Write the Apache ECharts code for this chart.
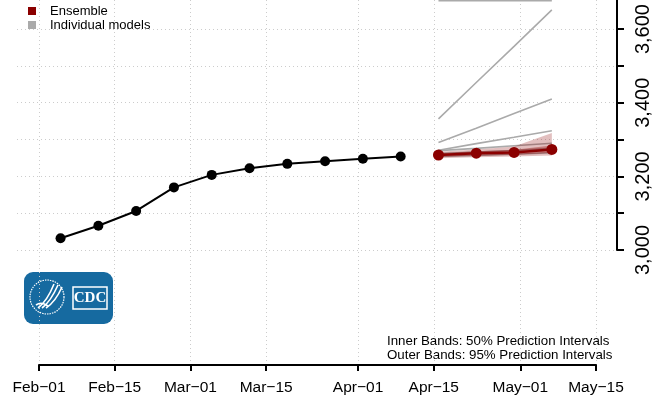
<!DOCTYPE html>
<html>
<head>
<meta charset="utf-8">
<script src="https://cdn.jsdelivr.net/npm/echarts@6/dist/echarts.min.js"></script>
<style>html,body{margin:0;padding:0;background:#fff}#c{width:653px;height:411px}</style>
</head>
<body>
<div id="c"></div>
<script>
// ---- data ----
const obsDates = ['2022-02-05','2022-02-12','2022-02-19','2022-02-26','2022-03-05','2022-03-12','2022-03-19','2022-03-26','2022-04-02','2022-04-09'];
const obsValues = [3032, 3066, 3106, 3170, 3204, 3222, 3234, 3241, 3248, 3254];
const fcDates = ['2022-04-16','2022-04-23','2022-04-30','2022-05-07'];
const ensMedian = [3258, 3263, 3265, 3273];
const ens50Lower = [3253, 3257, 3259, 3264];
const ens50Upper = [3263, 3268, 3272, 3284];
const ens95Lower = [3249, 3252, 3254, 3257];
const ens95Upper = [3267, 3273, 3281, 3318];
const model1 = [3677, 3677, 3677, 3677];
const model2 = [3356, 3455, 3553, 3652];
const model3 = [3292, 3331, 3371, 3410];
const model4 = [3271, 3289, 3306, 3324];
const model5 = [3270, 3276, 3283, 3290];
const model6 = [3262, 3266, 3270, 3276];
const model7 = [3254, 3257, 3260, 3264];
const xTickDates = ['2022-02-01','2022-02-15','2022-03-01','2022-03-15','2022-04-01','2022-04-15','2022-05-01','2022-05-15'];
const xTickLabels = ['Feb\u221201','Feb\u221215','Mar\u221201','Mar\u221215','Apr\u221201','Apr\u221215','May\u221201','May\u221215'];
const yTicks = [3000, 3100, 3200, 3300, 3400, 3500, 3600];
const yLabelValues = [3000, 3200, 3400, 3600];
const yTop = 3679;
const noteLines = ['Inner Bands: 50% Prediction Intervals', 'Outer Bands: 95% Prediction Intervals'];

// ---- helpers ----
function dn(s){ const p = s.split('-'); return Math.round((Date.UTC(+p[0], +p[1]-1, +p[2]) - Date.UTC(2022,0,1)) / 86400000); }
const xTickDn = xTickDates.map(dn);
const xMin = xTickDn[0], xMax = xTickDn[xTickDn.length-1];
const axL = 39, axR = 596, plotL = 17, plotR = 618;
const pxPerDay = (axR - axL) / (xMax - xMin);
const g0Min = xMin - (axL - plotL) / pxPerDay;
const g0Max = xMin + (plotR - axL) / pxPerDay;
const pair = (d, v) => d.map((x, i) => [dn(x), v[i]]);
const font = '"Liberation Sans", Arial, Helvetica, sans-serif';

const gray = '#aaaaaa';
const red = '#8b0000';
const models = [model1, model2, model3, model4, model5, model6, model7];
const series = [];
models.forEach(m => series.push({
  name: 'Individual models', type: 'line', xAxisIndex: 0, yAxisIndex: 0,
  data: pair(fcDates, m), symbol: 'none', silent: true,
  itemStyle: {color: gray}, lineStyle: {color: gray, width: 1.6}, z: 2
}));
function band(lower, upper, fill){
  series.push({
    type: 'custom', xAxisIndex: 0, yAxisIndex: 0, silent: true, z: 3,
    data: [[dn(fcDates[0]), lower[0]]],
    renderItem: (params, api) => {
      const top = upper.map((u, i) => api.coord([dn(fcDates[i]), u]));
      const bot = lower.map((l, i) => api.coord([dn(fcDates[i]), l])).reverse();
      return {type: 'polygon', shape: {points: top.concat(bot)}, style: {fill: fill}};
    }
  });
}
band(ens95Lower, ens95Upper, 'rgba(139,0,0,0.25)');
band(ens50Lower, ens50Upper, 'rgba(139,0,0,0.35)');
series.push({
  name: 'Ensemble', type: 'line', data: pair(fcDates, ensMedian), symbol: 'circle', symbolSize: 11,
  itemStyle: {color: red}, lineStyle: {color: red, width: 2.5}, z: 5
});
series.push({
  name: 'Observed', type: 'line', data: pair(obsDates, obsValues), symbol: 'circle', symbolSize: 10,
  itemStyle: {color: '#000'}, lineStyle: {color: '#000', width: 2}, z: 5
});
series.push({type: 'line', xAxisIndex: 1, yAxisIndex: 1, data: [], silent: true});

const W = '#ffffff';
const curve = (x1, y1, cx1, cy1, cx2, cy2, x2, y2, w) => ({type: 'bezierCurve',
  shape: {x1, y1, cpx1: cx1, cpy1: cy1, cpx2: cx2, cpy2: cy2, x2, y2}, style: {stroke: W, lineWidth: w, fill: 'none'}});

const chart = echarts.init(document.getElementById('c'), null, {renderer: 'canvas'});
chart.setOption({
  animation: false,
  backgroundColor: '#fff',
  textStyle: {fontFamily: font},
  grid: [
    {left: plotL, right: 653 - plotR, top: 0, bottom: 161, containLabel: false},
    {left: axL, right: 653 - axR, top: 0, bottom: 46, containLabel: false}
  ],
  legend: {
    data: ['Ensemble', 'Individual models'], orient: 'vertical', left: 28, top: 4, padding: 0,
    icon: 'rect', itemWidth: 8, itemHeight: 8, itemGap: 0, selectedMode: false,
    textStyle: {fontSize: 13, color: '#000', fontFamily: font, lineHeight: 14, padding: [0, 0, 0, 9]}
  },
  xAxis: [
    {gridIndex: 0, type: 'value', min: g0Min, max: g0Max, show: false},
    {gridIndex: 1, type: 'value', min: xMin, max: xMax,
      axisLine: {show: true, onZero: false, lineStyle: {color: '#000', width: 2}},
      axisTick: {show: true, length: 6, lineStyle: {color: '#000', width: 2}, customValues: xTickDn},
      axisLabel: {customValues: xTickDn, margin: 15, fontSize: 15.5, color: '#000', fontFamily: font,
        formatter: v => { const i = xTickDn.indexOf(Math.round(v)); return i >= 0 ? xTickLabels[i] : ''; }},
      splitLine: {show: true, lineStyle: {color: '#cccccc', type: [1, 3], width: 1}}
    }
  ],
  yAxis: [
    {gridIndex: 0, type: 'value', position: 'right', min: yTicks[0], max: yTop,
      axisLine: {show: true, onZero: false, lineStyle: {color: '#000', width: 2}},
      axisTick: {show: true, length: 7, lineStyle: {color: '#000', width: 2}, customValues: yTicks},
      axisLabel: {customValues: yLabelValues, rotate: 90, margin: 16, fontSize: 20, color: '#000', fontFamily: font,
        formatter: v => Number(v).toLocaleString('en-US')},
      splitLine: {show: true, lineStyle: {color: '#cccccc', type: [1, 3], width: 1}}
    },
    {gridIndex: 1, type: 'value', min: 0, max: 1, show: false}
  ],
  series: series,
  graphic: [
    {type: 'group', x: 24, y: 272, children: [
      {type: 'rect', shape: {x: 0, y: 0, width: 89, height: 52, r: 9}, style: {fill: '#166aa0'}},
      {type: 'circle', shape: {cx: 23, cy: 25, r: 17}, style: {fill: 'none', stroke: W, lineWidth: 1.2, lineDash: [1.5, 1]}},
      curve(14, 36, 22, 30, 26, 22, 30, 12, 1.6),
      curve(18, 36, 26, 30, 30, 22, 34, 13, 1.6),
      curve(22, 36, 30, 31, 34, 24, 38, 15, 1.6),
      curve(12, 33, 16, 30, 20, 31, 24, 34, 1.6),
      {type: 'rect', shape: {x: 49, y: 15, width: 34, height: 22}, style: {fill: 'none', stroke: W, lineWidth: 1.5}},
      {type: 'text', x: 66, y: 26, style: {text: 'CDC', fill: W, font: 'bold 15px "Liberation Serif", "DejaVu Serif", serif', align: 'center', verticalAlign: 'middle'}}
    ]},
    {type: 'text', x: 387, y: 335, style: {text: noteLines[0], fill: '#000', font: '13.3px ' + font}},
    {type: 'text', x: 387, y: 349, style: {text: noteLines[1], fill: '#000', font: '13.3px ' + font}}
  ]
});
</script>
</body>
</html>
